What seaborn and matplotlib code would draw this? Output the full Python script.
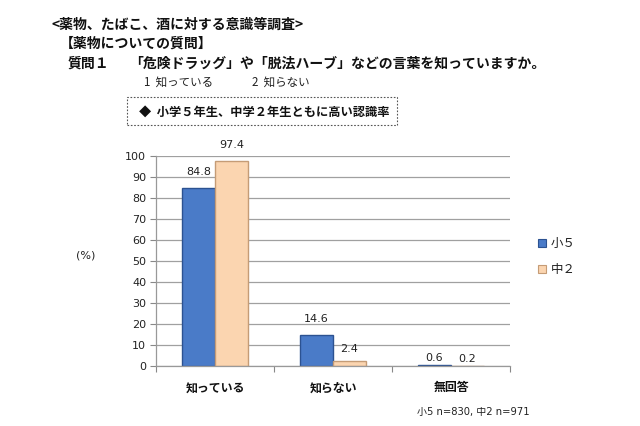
import matplotlib
matplotlib.use("Agg")
import matplotlib.pyplot as plt
import seaborn as sns
import pandas as pd
from matplotlib.patches import Rectangle

categories = ["知っている", "知らない", "無回答"]
series_names = ["小５", "中２"]
values_sho5 = [84.8, 14.6, 0.6]
values_chu2 = [97.4, 2.4, 0.2]
y_ticks = [0, 10, 20, 30, 40, 50, 60, 70, 80, 90, 100]

df = pd.DataFrame({
    "category": categories * 2,
    "group": [series_names[0]] * 3 + [series_names[1]] * 3,
    "value": values_sho5 + values_chu2,
})

sns.set_theme(style="white")
plt.rcParams["font.family"] = ["DejaVu Sans", "Noto Sans CJK JP"]
JP = ["Noto Sans CJK JP", "DejaVu Sans"]
LAT = ["DejaVu Sans", "Noto Sans CJK JP"]

W, H = 640, 426
fig = plt.figure(figsize=(6.4, 4.26), dpi=100)
fx = lambda x: x / W
fy = lambda y: 1 - y / H

ax = fig.add_axes([fx(156), fy(366), fx(510) - fx(156), fy(156) - fy(366)])

blue = "#4a7bc8"
beige = "#fbd5b0"
sns.barplot(data=df, x="category", y="value", hue="group", order=categories,
            hue_order=series_names, palette=[blue, beige], width=0.56, gap=0,
            ax=ax, legend=False, saturation=1)

edges = ["#2c5291", "#c59c76"]
for cont, ec in zip(ax.containers, edges):
    for bar in cont:
        bar.set_edgecolor(ec)
        bar.set_linewidth(1.0)

# data labels
pads = [[8, 8, 1], [8, 5, 1]]
for cont, vals, pp in zip(ax.containers, [values_sho5, values_chu2], pads):
    for bar, v, p in zip(cont, vals, pp):
        ax.annotate(f"{v:.1f}", (bar.get_x() + bar.get_width() / 2, bar.get_height()),
                    xytext=(0, p), textcoords="offset points", ha="center", va="bottom",
                    fontsize=8, color="#222222")

ax.set_ylim(0, 100)
ax.set_xlim(-0.5, 2.5)
ax.set_yticks(y_ticks)
ax.set_yticklabels([str(t) for t in y_ticks], fontsize=8, color="#222222")
ax.yaxis.grid(True, color="#a0a0a0", linewidth=0.9)
ax.set_axisbelow(True)
ax.set_xlabel("")
ax.set_ylabel("")
ax.set_xticks([0, 1, 2])
ax.set_xticklabels(categories, fontsize=8.6, fontweight="bold", family=JP, color="#111111")
ax.set_xticks([-0.5, 0.5, 1.5, 2.5], minor=True)
ax.tick_params(axis="x", which="major", length=0, pad=11)
ax.tick_params(axis="x", which="minor", length=4, color="#888888", width=0.8, bottom=True)
ax.tick_params(axis="y", which="major", length=4, color="#888888", width=0.8, left=True, pad=3)
for s in ["top", "right"]:
    ax.spines[s].set_visible(False)
for s in ["left", "bottom"]:
    ax.spines[s].set_color("#999999")
    ax.spines[s].set_linewidth(0.9)

# legend
for (name, col, ec), yy in zip(zip(series_names, [blue, beige], edges), [243, 269]):
    fig.patches.append(Rectangle((fx(538), fy(yy + 4)), fx(8), 8 / H, transform=fig.transFigure,
                                 facecolor=col, edgecolor=ec, linewidth=0.8))
    fig.text(fx(551), fy(yy), name, fontsize=9, family=JP, va="center", ha="left", color="#222222")

fig.text(fx(86), fy(256), "(%)", fontsize=8, ha="center", va="center", color="#222222")

# header texts
fig.text(fx(52), fy(25), "<薬物、たばこ、酒に対する意識等調査>", fontsize=10, fontweight="bold",
         family=JP, va="center", ha="left", color="#111111")
fig.text(fx(60), fy(44), "【薬物についての質問】", fontsize=10, fontweight="bold",
         family=JP, va="center", ha="left", color="#111111")
fig.text(fx(68), fy(64), "質問１", fontsize=10, fontweight="bold",
         family=JP, va="center", ha="left", color="#111111")
fig.text(fx(129), fy(64), "「危険ドラッグ」や「脱法ハーブ」などの言葉を知っていますか。", fontsize=10,
         fontweight="bold", family=JP, va="center", ha="left", color="#111111")
fig.text(fx(144), fy(82), "1  知っている", fontsize=8.3, family=JP, va="center", ha="left", color="#222222")
fig.text(fx(252), fy(82), "2  知らない", fontsize=8.3, family=JP, va="center", ha="left", color="#222222")

fig.patches.append(Rectangle((fx(127), fy(125)), fx(397) - fx(127), fy(97) - fy(125),
                             transform=fig.transFigure, facecolor="none", edgecolor="#555555",
                             linewidth=0.8, linestyle=(0, (1.5, 1.5))))
fig.text(fx(139), fy(112), "◆  小学５年生、中学２年生ともに高い認識率", fontsize=8.8, fontweight="bold",
         family=JP, va="center", ha="left", color="#111111")

fig.text(fx(417), fy(412), "小5 n=830, 中2 n=971", fontsize=7.2, family=LAT, va="center", ha="left",
         color="#222222")

fig.savefig("out.png", dpi=100)
